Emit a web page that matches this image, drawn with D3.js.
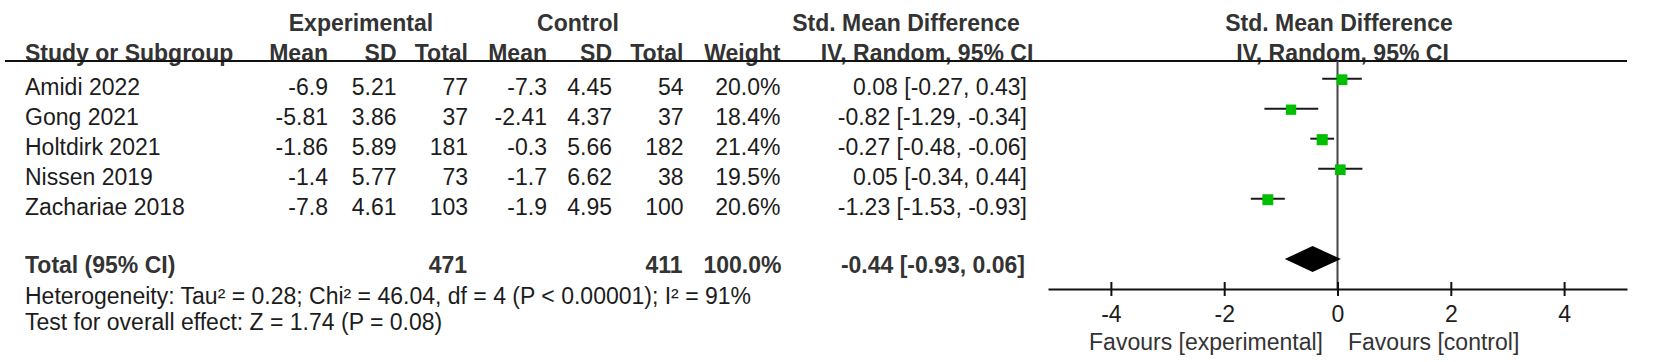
<!DOCTYPE html>
<html>
<head>
<meta charset="utf-8">
<script src="https://cdn.jsdelivr.net/npm/d3@7"></script>
<style>
  body { margin: 0; background: #fff; }
  svg { display: block; font-family: "Liberation Sans", Arial, sans-serif; }
</style>
</head>
<body>
<svg id="forest"></svg>
<script>
// Study data
const studies   = ['Amidi 2022', 'Gong 2021', 'Holtdirk 2021', 'Nissen 2019', 'Zachariae 2018'];
const expMean   = ['-6.9', '-5.81', '-1.86', '-1.4', '-7.8'];
const expSD     = ['5.21', '3.86', '5.89', '5.77', '4.61'];
const expTotal  = [77, 37, 181, 73, 103];
const ctrlMean  = ['-7.3', '-2.41', '-0.3', '-1.7', '-1.9'];
const ctrlSD    = ['4.45', '4.37', '5.66', '6.62', '4.95'];
const ctrlTotal = [54, 37, 182, 38, 100];
const weights   = [20.0, 18.4, 21.4, 19.5, 20.6];
const smd       = [0.08, -0.82, -0.27, 0.05, -1.23];
const ciLow     = [-0.27, -1.29, -0.48, -0.34, -1.53];
const ciHigh    = [0.43, -0.34, -0.06, 0.44, -0.93];

// Pooled estimate
const pooled = { smd: -0.44, lo: -0.93, hi: 0.06, expN: 471, ctrlN: 411, weight: 100.0 };
const heterogeneityText = 'Heterogeneity: Tau² = 0.28; Chi² = 46.04, df = 4 (P < 0.00001); I² = 91%';
const overallText = 'Test for overall effect: Z = 1.74 (P = 0.08)';

const tickValues = [-4, -2, 0, 2, 4];
const favourLeft = 'Favours [experimental]';
const favourRight = 'Favours [control]';

const width = 1654, height = 362;
const fs = 23;
const textCol = '#1c1c1c';
const headCol = '#333';

const svg = d3.select('#forest')
    .attr('width', width)
    .attr('height', height);

svg.append('rect').attr('width', width).attr('height', height).attr('fill', '#fff');

// row centres of the study lines
const rowY = d3.scaleLinear().domain([0, studies.length - 1]).range([86.7, 206.7]);
const baseOff = 8;   // centre -> baseline

// x scale of the forest plot
const x = d3.scaleLinear().domain([-5.11, 5.11]).range([1048, 1627]);

// Table columns: right edges
const cols = [
    { right: 328,   vals: expMean,   head: 'Mean' },
    { right: 396.5, vals: expSD,     head: 'SD' },
    { right: 468,   vals: expTotal,  head: 'Total' },
    { right: 547,   vals: ctrlMean,  head: 'Mean' },
    { right: 612,   vals: ctrlSD,    head: 'SD' },
    { right: 683.5, vals: ctrlTotal, head: 'Total' },
    { right: 780.5, vals: weights.map(w => w.toFixed(1) + '%'), head: 'Weight' },
    { right: 1027,  vals: smd.map((d, i) => `${d.toFixed(2)} [${ciLow[i].toFixed(2)}, ${ciHigh[i].toFixed(2)}]`) }
];

function txt(g, s, xPos, yPos, anchor, bold, col) {
    return g.append('text')
        .attr('x', xPos)
        .attr('y', yPos)
        .attr('text-anchor', anchor || 'start')
        .attr('font-size', fs + 'px')
        .attr('font-weight', bold ? 'bold' : 'normal')
        .attr('fill', col || textCol)
        .text(s);
}

// Headers
const head = svg.append('g');
txt(head, 'Experimental', 361, 23.3 + baseOff, 'middle', true, headCol);
txt(head, 'Control', 578, 23.3 + baseOff, 'middle', true, headCol);
txt(head, 'Std. Mean Difference', 906, 23.3 + baseOff, 'middle', true, headCol);
txt(head, 'Std. Mean Difference', 1339, 23.3 + baseOff, 'middle', true, headCol);

const h2 = 53.3 + baseOff;
txt(head, 'Study or Subgroup', 25, h2, 'start', true, headCol);
cols.forEach(c => {
    if (c.head) txt(head, c.head, c.right, h2, 'end', true, headCol);
});
txt(head, 'IV, Random, 95% CI', 927, h2, 'middle', true, headCol);
txt(head, 'IV, Random, 95% CI', 1342.5, h2, 'middle', true, headCol);

// header rule
svg.append('line')
    .attr('x1', 5).attr('x2', 1627)
    .attr('y1', 61).attr('y2', 61)
    .attr('stroke', '#111').attr('stroke-width', 1.8);

// Study rows
const body = svg.append('g');
studies.forEach((s, i) => {
    const y = rowY(i) + baseOff;
    txt(body, s, 25, y);
    cols.forEach(c => txt(body, c.vals[i], c.right, y, 'end'));
});

// Total row
const totY = 265 + baseOff;
txt(body, 'Total (95% CI)', 25, totY, 'start', true, headCol);
txt(body, pooled.expN, 467, totY, 'end', true, headCol);
txt(body, pooled.ctrlN, 682.5, totY, 'end', true, headCol);
txt(body, pooled.weight.toFixed(1) + '%', 781.5, totY, 'end', true, headCol);
txt(body, `${pooled.smd.toFixed(2)} [${pooled.lo.toFixed(2)}, ${pooled.hi.toFixed(2)}]`, 1025, totY, 'end', true, headCol);

txt(body, heterogeneityText, 25, 295.5 + baseOff);
txt(body, overallText, 25, 322 + baseOff);

// Forest plot
const plot = svg.append('g');
const axisY = 289;

// zero line
plot.append('line')
    .attr('x1', x(0)).attr('x2', x(0))
    .attr('y1', 61).attr('y2', axisY)
    .attr('stroke', '#444').attr('stroke-width', 2);

// CI whiskers
plot.selectAll('line.ci')
    .data(studies)
    .join('line')
    .attr('class', 'ci')
    .attr('x1', (d, i) => x(ciLow[i]))
    .attr('x2', (d, i) => x(ciHigh[i]))
    .attr('y1', (d, i) => rowY(i) - 8)
    .attr('y2', (d, i) => rowY(i) - 8)
    .attr('stroke', '#1a1a1a')
    .attr('stroke-width', 2);

// weighted squares
const side = w => 2.4 * Math.sqrt(w);
plot.selectAll('rect.sq')
    .data(studies)
    .join('rect')
    .attr('class', 'sq')
    .attr('x', (d, i) => x(smd[i]) - side(weights[i]) / 2)
    .attr('y', (d, i) => rowY(i) - 7 - side(weights[i]) / 2)
    .attr('width', (d, i) => side(weights[i]))
    .attr('height', (d, i) => side(weights[i]))
    .attr('fill', '#00bf00');

// pooled diamond
const dy = 259, dh = 13;
plot.append('path')
    .attr('d', `M${x(pooled.lo)},${dy} L${x(pooled.smd)},${dy - dh} L${x(pooled.hi)},${dy} L${x(pooled.smd)},${dy + dh} Z`)
    .attr('fill', '#000');

// axis
const axis = d3.axisBottom(x)
    .tickValues(tickValues)
    .tickFormat(d => String(d))
    .tickSizeInner(7)
    .tickSizeOuter(0);

const ax = plot.append('g')
    .attr('transform', `translate(0,${axisY})`)
    .call(axis);

ax.select('.domain').attr('stroke', '#111').attr('stroke-width', 2);
ax.selectAll('.tick line')
    .attr('y1', -7).attr('y2', 7)
    .attr('stroke', '#111').attr('stroke-width', 2);
ax.selectAll('.tick text')
    .attr('y', 16.5)
    .attr('font-size', '23px')
    .attr('font-family', '"Liberation Sans", Arial, sans-serif')
    .attr('fill', textCol);

// favours labels
txt(plot, favourLeft, x(0) - 14.5, 341.7 + baseOff, 'end', false, '#333');
txt(plot, favourRight, x(0) + 10.5, 341.7 + baseOff, 'start', false, '#333');
</script>
</body>
</html>
